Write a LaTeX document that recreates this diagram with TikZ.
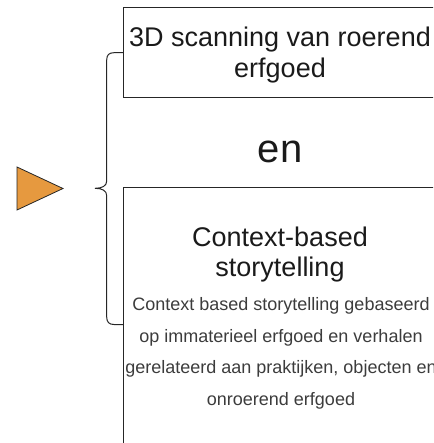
\documentclass[tikz,border=0pt]{standalone}
\usepackage{fontspec}
\setmainfont{Liberation Sans}
\definecolor{tri}{HTML}{E6993F}
\definecolor{ln}{HTML}{262626}
\definecolor{tx}{HTML}{1A1A1A}
\begin{document}
\begin{tikzpicture}[x=1pt,y=-1pt,
  box/.style={draw=ln,line width=1pt,rectangle,inner sep=0pt},
  title/.style={anchor=base,inner sep=0pt,text=tx,font=\fontsize{27}{30}\selectfont},
  big/.style={anchor=base,inner sep=0pt,text=tx,font=\fontsize{40}{44}\selectfont},
  small/.style={anchor=base,inner sep=0pt,text=tx!85,font=\fontsize{18}{20}\selectfont},
  bracestyle/.style={draw=ln,line width=1pt}]
\useasboundingbox (0,0) rectangle (433,443);
\begin{scope}
\clip (0,0) rectangle (433,443);
% boxes
\node[box,minimum width=314pt,minimum height=90pt] (b1) at (280,53) {};
\node[box,minimum width=314pt,minimum height=290pt] (b2) at (280,333) {};
% texts
\node[title] (t1a) at (280,46.7) {3D scanning van roerend};
\node[title] (t1b) at (280,77.3) {erfgoed};
\node[big] (en) at (280,163) {en};
\node[title] (t2a) at (280,246.7) {Context-based};
\node[title] (t2b) at (280,276.7) {storytelling};
\node[small] (s1) at (281,310.7) {Context based storytelling gebaseerd};
\node[small] (s2) at (281,342) {op immaterieel erfgoed en verhalen};
\node[small] (s3) at (281,373.5) {gerelateerd aan praktijken, objecten en};
\node[small] (s4) at (281,405) {onroerend erfgoed};
\end{scope}
% triangle
\draw[ln,line width=0.8pt,fill=tri] (17,167) coordinate (ta) -- (63,188.5) coordinate (tb) -- (17,210) coordinate (tc) -- cycle;
% brace
\coordinate (bt) at (123,52.7);
\coordinate (bm) at (95,188.3);
\coordinate (bb) at (123,324.5);
\draw[bracestyle] (bt) -- (114,52.7) .. controls (109,52.7) and (106.7,55) .. (106.7,60)
  -- (106.7,181) .. controls (106.7,186) and (102,188.3) .. (bm)
  .. controls (102,188.3) and (106.7,190.6) .. (106.7,195.6)
  -- (106.7,317) .. controls (106.7,322) and (109,324.5) .. (114,324.5) -- (bb);
\end{tikzpicture}
\end{document}
